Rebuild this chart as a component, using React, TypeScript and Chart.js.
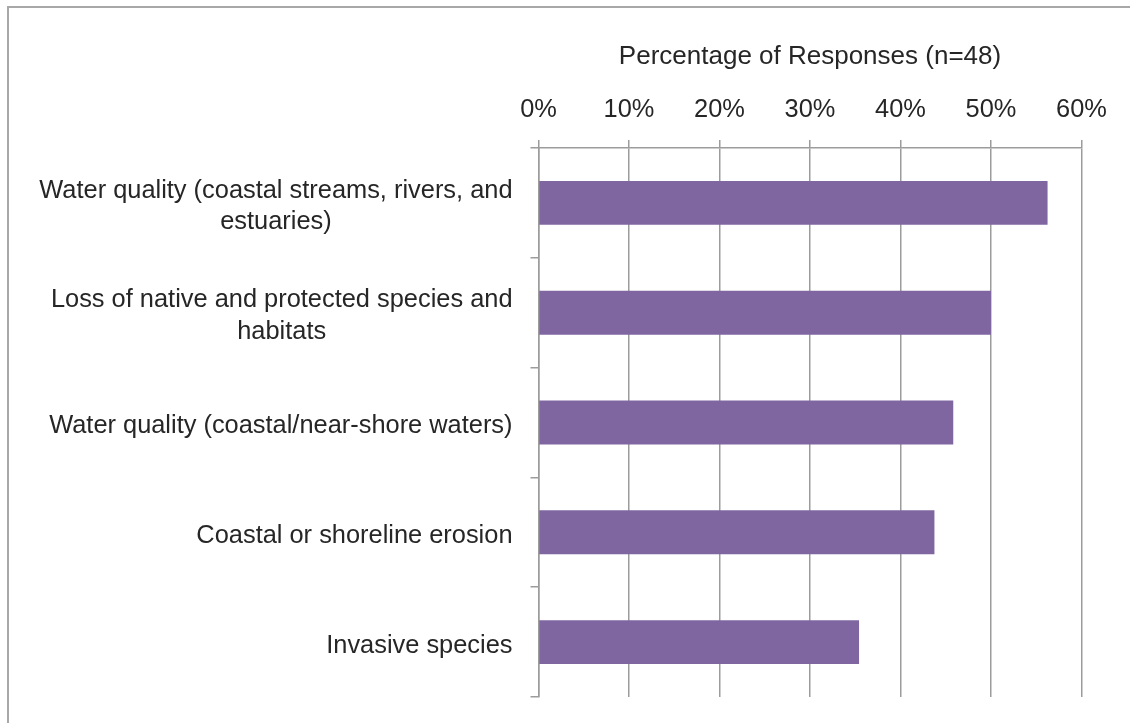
import React, { useEffect, useRef } from "react";
import { Chart, registerables } from "chart.js";

Chart.register(...registerables);

// Survey categories (multi-line labels are arrays of lines)
const categories: (string | string[])[] = [
  ["Water quality (coastal streams, rivers, and", "estuaries)"],
  ["Loss of native and protected species and", "habitats"],
  "Water quality (coastal/near-shore waters)",
  "Coastal or shoreline erosion",
  "Invasive species",
];

// Share of respondents (%) naming each concern, n = 48
const responsePercent: number[] = [56.25, 50.0, 45.83, 43.75, 35.42];

const xTicks: number[] = [0, 10, 20, 30, 40, 50, 60];
const axisTitle = "Percentage of Responses (n=48)";

const FONT = "'Liberation Sans', Arial, Helvetica, sans-serif";
const TEXT = "#262626";
const GRID = "#9c9c9c";
const BAR = "#7f66a1";

// Draws category labels: block right-aligned to the axis, lines centred within the block
const categoryLabelPlugin = {
  id: "categoryLabels",
  afterDraw(chart: any) {
    const ctx = chart.ctx;
    const yScale = chart.scales.y;
    const rightEdge = yScale.right - 26;
    const lineGap = 31.7;
    ctx.save();
    ctx.font = `25.4px ${FONT}`;
    ctx.fillStyle = TEXT;
    ctx.textAlign = "center";
    ctx.textBaseline = "middle";
    categories.forEach((label, i) => {
      const lines = Array.isArray(label) ? label : [label];
      const widest = Math.max(...lines.map((l) => ctx.measureText(l).width));
      const cx = rightEdge - widest / 2;
      const cy = yScale.getPixelForValue(i) + 3.5;
      const startY = cy - ((lines.length - 1) * lineGap) / 2;
      lines.forEach((line, j) => {
        ctx.fillText(line, cx, startY + j * lineGap);
      });
    });
    ctx.restore();
  },
};

export default function App() {
  const canvasRef = useRef<HTMLCanvasElement | null>(null);

  useEffect(() => {
    if (!canvasRef.current) return;
    const chart = new Chart(canvasRef.current, {
      type: "bar",
      data: {
        labels: categories.map((c) => (Array.isArray(c) ? c.join(" ") : c)),
        datasets: [
          {
            data: responsePercent,
            backgroundColor: BAR,
            borderWidth: 0,
            barPercentage: 0.4,
            categoryPercentage: 1,
          },
        ],
      },
      options: {
        indexAxis: "y",
        animation: false,
        responsive: false,
        layout: { padding: { top: 0, right: 48.5, bottom: 26, left: 0 } },
        plugins: {
          legend: { display: false },
          tooltip: { enabled: false },
        },
        scales: {
          x: {
            position: "top",
            min: 0,
            max: 60,
            afterBuildTicks: (scale: any) => {
              scale.ticks = xTicks.map((v) => ({ value: v }));
            },
            afterFit: (scale: any) => {
              scale.height = 148;
            },
            ticks: {
              callback: (v: any) => `${v}%`,
              font: { family: FONT, size: 25.4 },
              color: TEXT,
              padding: 15,
              maxRotation: 0,
            },
            grid: {
              color: GRID,
              lineWidth: 1.5,
              tickLength: 8,
              drawTicks: true,
            },
            border: { display: true, color: GRID, width: 1.5 },
            title: {
              display: true,
              text: axisTitle,
              font: { family: FONT, size: 26 },
              color: TEXT,
              padding: { top: 41, bottom: 0 },
            },
          },
          y: {
            afterFit: (scale: any) => {
              scale.width = 538.5;
            },
            ticks: { display: false },
            grid: {
              offset: true,
              drawOnChartArea: false,
              drawTicks: true,
              tickLength: 8,
              color: GRID,
              lineWidth: 1.5,
            },
            border: { display: true, color: GRID, width: 1.5 },
          },
        },
      },
      plugins: [categoryLabelPlugin],
    });
    return () => chart.destroy();
  }, []);

  return (
    <div
      style={{
        position: "absolute",
        left: 0,
        top: 0,
        width: 1130,
        height: 723,
        overflow: "hidden",
        background: "#ffffff",
      }}
    >
      <div
        style={{
          position: "absolute",
          left: 7,
          top: 6,
          width: 1130,
          height: 723,
          borderTop: "2px solid #a8a8a8",
          borderLeft: "2px solid #a8a8a8",
        }}
      />
      <canvas
        ref={canvasRef}
        width={1130}
        height={723}
        style={{ position: "absolute", left: 0, top: 0 }}
      />
    </div>
  );
}
